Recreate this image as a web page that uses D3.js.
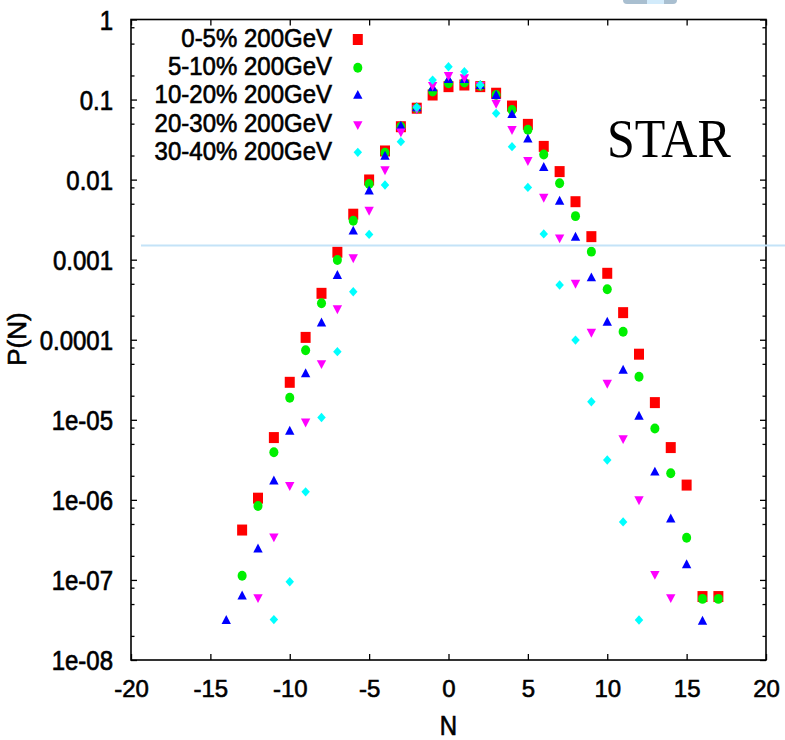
<!DOCTYPE html>
<html>
<head>
<meta charset="utf-8">
<script src="https://cdn.jsdelivr.net/npm/d3@7"></script>
<style>
  html, body { margin: 0; padding: 0; background: #fff; }
  svg { display: block; }
  text { font-family: "Liberation Sans", Arial, sans-serif; fill: #000; }
  .heavy { stroke: #000; stroke-width: 0.6px; }
</style>
</head>
<body>
<div class="pn-viz"></div>
<script>
// P(N) values, one pair of arrays per centrality class
const n0to5 = [-13,-12,-11,-10,-9,-8,-7,-6,-5,-4,-3,-2,-1,0,1,2,3,4,5,6,7,8,9,10,11,12,13,14,15,16,17];
const p0to5 = [4.2e-7,1.05e-6,6.0e-6,2.94e-5,1.07e-4,3.8e-4,1.24e-3,3.7e-3,9.9e-3,0.0228,0.0458,0.078,0.114,
  0.145,0.152,0.145,0.12,0.083,0.049,0.026,0.0126,0.0053,1.94e-3,6.76e-4,2.18e-4,6.6e-5,1.64e-5,4.5e-6,1.53e-6,6.2e-8,6.2e-8];

const n5to10 = [-13,-12,-11,-10,-9,-8,-7,-6,-5,-4,-3,-2,-1,0,1,2,3,4,5,6,7,8,9,10,11,12,13,14,15,16,17];
const p5to10 = [1.13e-7,8.4e-7,3.93e-6,1.89e-5,7.4e-5,2.85e-4,9.9e-4,3.07e-3,8.8e-3,0.0217,0.0458,0.078,0.126,
  0.16,0.163,0.148,0.114,0.074,0.042,0.0206,0.009,0.0035,1.26e-3,4.27e-4,1.26e-4,3.45e-5,7.8e-6,2.15e-6,3.37e-7,5.8e-8,5.8e-8];

const n10to20 = [-14,-13,-12,-11,-10,-9,-8,-7,-6,-5,-4,-3,-2,-1,0,1,2,3,4,5,6,7,8,9,10,11,12,13,14,15,16];
const p10to20 = [3.07e-8,6.2e-8,2.4e-7,1.7e-6,7.1e-6,3.7e-5,1.6e-4,6.25e-4,2.24e-3,7.1e-3,0.0193,0.0458,0.078,0.138,
  0.176,0.175,0.148,0.111,0.064,0.0316,0.014,0.0053,1.88e-3,5.85e-4,1.63e-4,4.1e-5,1.09e-5,2.19e-6,5.7e-7,1.53e-7,3.0e-8];

const n20to30 = [-12,-11,-10,-9,-8,-7,-6,-5,-4,-3,-2,-1,0,1,2,3,4,5,6,7,8,9,10,11,12,13,14];
const p20to30 = [6.1e-8,3.5e-7,1.53e-6,9.5e-6,5.1e-5,2.47e-4,1.07e-3,4.2e-3,0.01345,0.040,0.078,0.152,
  0.203,0.19,0.152,0.0914,0.0429,0.0176,0.0061,1.9e-3,5.15e-4,1.26e-4,2.9e-5,5.9e-6,1.02e-6,1.19e-7,6.1e-8];

const n30to40 = [-11,-10,-9,-8,-7,-6,-5,-4,-3,-2,-1,0,1,2,3,4,5,6,7,8,9,10,11,12];
const p30to40 = [3.2e-8,9.5e-8,1.26e-6,1.07e-5,7.1e-5,3.98e-4,2.07e-3,8.57e-3,0.0298,0.08,0.175,
  0.257,0.223,0.152,0.0673,0.0258,0.008,2.1e-3,4.83e-4,9.9e-5,1.68e-5,3.15e-6,5.3e-7,3.16e-8];

const seriesNames = ["0-5% 200GeV", "5-10% 200GeV", "10-20% 200GeV", "20-30% 200GeV", "30-40% 200GeV"];

const xTicks = [-20, -15, -10, -5, 0, 5, 10, 15, 20];
const xTickLabels = ["-20", "-15", "-10", "-5", "0", "5", "10", "15", "20"];
const yTicks = [1, 0.1, 0.01, 0.001, 0.0001, 1e-5, 1e-6, 1e-7, 1e-8];
const yTickLabels = ["1", "0.1", "0.01", "0.001", "0.0001", "1e-05", "1e-06", "1e-07", "1e-08"];

// ---- layout
const W = 785, H = 740;
const margin = { left: 131, right: 766, top: 19.5, bottom: 660 };

const svg = d3.select(".pn-viz")
  .append("svg")
  .attr("width", W)
  .attr("height", H)
  .attr("viewBox", `0 0 ${W} ${H}`);

svg.append("rect").attr("width", W).attr("height", H).attr("fill", "#fff");

const x = d3.scaleLinear().domain([-20, 20]).range([margin.left, margin.right]);
const y = d3.scaleLog().domain([1e-8, 1]).range([margin.bottom, margin.top]);

// minor ticks at 2, 5, 8 inside each decade
const minorTicks = [];
yTicks.slice(1).forEach(d => [2, 5, 8].forEach(m => minorTicks.push(d * m)));

// bottom / top x axes
const xb = svg.append("g")
  .attr("transform", `translate(0, ${margin.bottom})`)
  .call(d3.axisBottom(x).tickValues(xTicks).tickSize(-6).tickFormat((d, i) => xTickLabels[i]));
xb.select(".domain").remove();
xb.selectAll("text")
  .attr("class", "heavy")
  .attr("y", 37).attr("dy", 0)
  .attr("font-size", "24px")
  .style("font-family", "Liberation Sans, Arial, sans-serif");

svg.append("g")
  .attr("transform", `translate(0, ${margin.top})`)
  .call(d3.axisTop(x).tickValues(xTicks).tickSize(-6).tickFormat(""))
  .select(".domain").remove();

// left / right y axes
const yl = svg.append("g")
  .attr("transform", `translate(${margin.left}, 0)`)
  .call(d3.axisLeft(y).tickValues(yTicks).tickSize(-6).tickFormat((d, i) => yTickLabels[i]));
yl.select(".domain").remove();
yl.selectAll("text")
  .attr("class", "heavy")
  .attr("x", -18).attr("dy", "0.34em")
  .attr("font-size", "24px")
  .attr("transform", "scale(1,1.17)")
  .style("font-family", "Liberation Sans, Arial, sans-serif");

svg.append("g")
  .attr("transform", `translate(${margin.left}, 0)`)
  .call(d3.axisLeft(y).tickValues(minorTicks).tickSize(-3.5).tickFormat(""))
  .select(".domain").remove();

svg.append("g")
  .attr("transform", `translate(${margin.right}, 0)`)
  .call(d3.axisRight(y).tickValues(yTicks).tickSize(-6).tickFormat(""))
  .select(".domain").remove();

svg.append("g")
  .attr("transform", `translate(${margin.right}, 0)`)
  .call(d3.axisRight(y).tickValues(minorTicks).tickSize(-3.5).tickFormat(""))
  .select(".domain").remove();

svg.selectAll(".tick line").attr("stroke", "#000").attr("stroke-width", 1.3);

// frame
svg.append("rect")
  .attr("x", margin.left).attr("y", margin.top)
  .attr("width", margin.right - margin.left).attr("height", margin.bottom - margin.top)
  .attr("fill", "none").attr("stroke", "#000").attr("stroke-width", 1.6);

// axis titles
svg.append("text")
  .attr("class", "heavy")
  .attr("transform", `translate(${x(0)}, 735) scale(1,1.12)`)
  .attr("text-anchor", "middle")
  .attr("font-size", "24px")
  .text("N");

svg.append("text")
  .attr("class", "heavy")
  .attr("transform", "translate(26, 339) rotate(-90)")
  .attr("text-anchor", "middle")
  .attr("font-size", "26px")
  .text("P(N)");

// STAR label
svg.append("text")
  .attr("transform", "translate(607, 157) scale(1,1.08)")
  .style("font-family", "Liberation Serif, Times New Roman, serif")
  .attr("font-size", "50px")
  .text("STAR");

// marker shapes
const markers = [
  { color: "#ff0000", sym: d3.symbol().type(d3.symbolSquare).size(100), rot: 0 },
  { color: "#00f000", sym: d3.symbol().type(d3.symbolCircle).size(64), rot: 0 },
  { color: "#0000ff", sym: d3.symbol().type(d3.symbolTriangle).size(38), rot: 0 },
  { color: "#ff00ff", sym: d3.symbol().type(d3.symbolTriangle).size(38), rot: 180 },
  { color: "#00ffff", sym: d3.symbol().type(d3.symbolSquare).size(36), rot: 45 }
];

const allN = [n0to5, n5to10, n10to20, n20to30, n30to40];
const allP = [p0to5, p5to10, p10to20, p20to30, p30to40];

allN.forEach((ns, s) => {
  const data = ns.map((n, i) => ({ n: n, p: allP[s][i] }));
  const m = markers[s];
  svg.append("g")
    .selectAll("path")
    .data(data)
    .enter()
    .append("path")
    .attr("d", m.sym())
    .attr("fill", m.color)
    .attr("transform", d => `translate(${x(d.n)}, ${y(d.p)}) scale(1,1.1) rotate(${m.rot})`);
});

// legend
const legend = svg.append("g");
seriesNames.forEach((name, i) => {
  const ly = 39.5 + i * 28.2;
  legend.append("text")
    .attr("class", "heavy")
    .attr("transform", `translate(332, ${ly + 7.4}) scale(1,1.1)`)
    .attr("text-anchor", "end")
    .attr("font-size", "24px")
    .text(name);
  legend.append("path")
    .attr("d", markers[i].sym())
    .attr("fill", markers[i].color)
    .attr("transform", `translate(357.8, ${ly}) scale(1,1.1) rotate(${markers[i].rot})`);
});

// stray overlay pieces from the source screenshot
svg.append("line")
  .attr("x1", 141).attr("x2", W)
  .attr("y1", 245.6).attr("y2", 245.6)
  .attr("stroke", "#c4e3f8").attr("stroke-width", 2);

svg.append("rect")
  .attr("x", 623).attr("y", -6).attr("width", 54).attr("height", 10).attr("rx", 4)
  .attr("fill", "#a9bfd0");
svg.append("rect")
  .attr("x", 647).attr("y", -6).attr("width", 17).attr("height", 10)
  .attr("fill", "#d2ebfb");
</script>
</body>
</html>
